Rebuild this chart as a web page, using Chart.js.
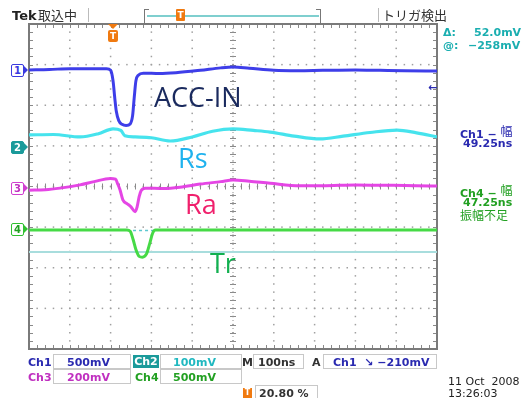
<!DOCTYPE html>
<html>
<head>
<meta charset="utf-8">
<script src="https://cdn.jsdelivr.net/npm/chart.js@4"></script>
<style>
  body { margin: 0; background: #fff; width: 527px; height: 398px; overflow: hidden; position: relative; font-family: "DejaVu Sans", sans-serif; }
  .t { position: absolute; white-space: nowrap; line-height: 1; }
  .b { font-weight: bold; font-size: 11px; }
  .box { position: absolute; border: 1px solid #c8c8c8; height: 13px; }
  .tab { position: absolute; left: 11px; width: 11px; height: 11px; border: 1px solid; border-radius: 2px; font: bold 10px "DejaVu Sans", sans-serif; line-height: 11px; text-align: center; background: #fff; }
  .tab:after { content: ""; position: absolute; left: 11px; top: 0; border-top: 5.5px solid transparent; border-bottom: 5.5px solid transparent; border-left: 5px solid; border-left-color: inherit; }
  .big { position: absolute; font-family: "Open Sans", sans-serif; font-size: 27px; line-height: 1; }
  #plot { position: absolute; left: 27px; top: 22px; width: 412px; height: 329px; }
</style>
</head>
<body>
<div id="plot"><canvas id="scope" width="412" height="329"></canvas></div>

<!-- top bar -->
<div class="t" style="left:12px;top:8px;font:bold 13px 'DejaVu Sans';color:#222">Tek</div>
<div class="t" style="left:38px;top:5px;font:13px 'Noto Sans CJK JP';color:#333">取込中</div>
<div style="position:absolute;left:88px;top:8px;width:1px;height:14px;background:#bbb"></div>
<div style="position:absolute;left:144px;top:9px;width:4px;height:13px;border:1px solid #777;border-right:none"></div>
<div style="position:absolute;left:316px;top:9px;width:4px;height:13px;border:1px solid #777;border-left:none"></div>
<div style="position:absolute;left:147px;top:15px;width:172px;height:2px;background:#7fcfcf"></div>
<div class="t" style="left:176px;top:9px;width:9px;height:12px;background:#f07a10;color:#fff;font:bold 9px 'DejaVu Sans';line-height:12px;text-align:center;border-radius:1px">T</div>
<div style="position:absolute;left:378px;top:8px;width:1px;height:14px;background:#bbb"></div>
<div class="t" style="left:382px;top:5px;font:13px 'Noto Sans CJK JP';color:#333">トリガ検出</div>

<!-- trigger position marker on top border -->
<div style="position:absolute;left:108px;top:24px;width:0;height:0;border-left:5px solid transparent;border-right:5px solid transparent;border-top:5px solid #f07a10"></div>
<div class="t" style="left:108px;top:30px;width:10px;height:12px;background:#f07a10;color:#fff;font:bold 9px 'DejaVu Sans';line-height:12px;text-align:center;border-radius:2px">T</div>

<!-- channel tabs -->
<div class="tab" style="top:64px;color:#3a3ae0;border-color:#3a3ae0">1</div>
<div class="tab" style="top:141px;color:#fff;background:#1a9a9a;border-color:#1a9a9a">2</div>
<div class="tab" style="top:182px;color:#c030c0;border-color:#d040d0">3</div>
<div class="tab" style="top:223px;color:#20a020;border-color:#30c030">4</div>
<div class="t" style="left:428px;top:81px;font:bold 11px 'DejaVu Sans';color:#2a2ab0">←</div>

<!-- big labels -->
<div class="big" style="left:154px;top:83px;color:#1a2a5e">ACC-IN</div>
<div class="big" style="left:178px;top:144px;color:#1fb2ee">Rs</div>
<div class="big" style="left:185px;top:190px;color:#f0206c">Ra</div>
<div class="big" style="left:210px;top:249px;color:#12b050">Tr</div>

<!-- right readouts -->
<div class="t b" style="left:443px;top:27px;color:#1aaeb0">Δ:</div>
<div class="t b" style="left:474px;top:27px;color:#1aaeb0">52.0mV</div>
<div class="t b" style="left:443px;top:40px;color:#1aaeb0">@:</div>
<div class="t b" style="left:468px;top:40px;color:#1aaeb0">−258mV</div>
<div class="t" style="left:460px;top:124px;font:bold 11px 'DejaVu Sans';color:#2a2ab0">Ch1 − <span style="font:12px 'Noto Sans CJK JP';position:relative;top:-2px">幅</span></div>
<div class="t b" style="left:463px;top:138px;color:#2a2ab0">49.25ns</div>
<div class="t" style="left:460px;top:183px;font:bold 11px 'DejaVu Sans';color:#22a022">Ch4 − <span style="font:12px 'Noto Sans CJK JP';position:relative;top:-2px">幅</span></div>
<div class="t b" style="left:463px;top:197px;color:#22a022">47.25ns</div>
<div class="t" style="left:460px;top:206px;font:12px 'Noto Sans CJK JP';color:#22a022">振幅不足</div>

<!-- bottom settings -->
<div class="t b" style="left:28px;top:357px;color:#2a2ab0">Ch1</div>
<div class="box" style="left:53px;top:354px;width:76px"></div>
<div class="t b" style="left:67px;top:357px;color:#2a2ab0">500mV</div>
<div class="t b" style="left:133px;top:355px;width:26px;height:13px;line-height:14px;background:#1a9a9a;color:#fff;text-align:center">Ch2</div>
<div class="box" style="left:160px;top:354px;width:80px"></div>
<div class="t b" style="left:173px;top:357px;color:#20b8c0">100mV</div>
<div class="t b" style="left:242px;top:357px;color:#333">M</div>
<div class="box" style="left:253px;top:354px;width:49px"></div>
<div class="t b" style="left:258px;top:357px;color:#333">100ns</div>
<div class="t b" style="left:312px;top:357px;color:#333">A</div>
<div class="box" style="left:323px;top:354px;width:112px"></div>
<div class="t b" style="left:333px;top:357px;color:#2a2ab0">Ch1 &nbsp;↘ −210mV</div>

<div class="t b" style="left:28px;top:372px;color:#c030c0">Ch3</div>
<div class="box" style="left:53px;top:369px;width:76px"></div>
<div class="t b" style="left:67px;top:372px;color:#c030c0">200mV</div>
<div class="t b" style="left:135px;top:372px;color:#22a022">Ch4</div>
<div class="box" style="left:160px;top:369px;width:80px"></div>
<div class="t b" style="left:173px;top:372px;color:#22a022">500mV</div>

<div class="t" style="left:243px;top:388px;width:9px;height:10px;background:#f07a10;color:#fff;font:bold 8px 'DejaVu Sans';line-height:10px;text-align:center">T</div>
<div class="box" style="left:255px;top:385px;width:61px"></div>
<div class="t b" style="left:259px;top:388px;color:#333">20.80 %</div>

<div class="t" style="left:448px;top:375px;font:11px 'DejaVu Sans';color:#222">11 Oct &nbsp;2008</div>
<div class="t" style="left:448px;top:387px;font:11px 'DejaVu Sans';color:#222">13:26:03</div>

<script>
// Oscilloscope capture, x in ns (10 div x 100ns), y in screen divisions (-4..4)

const ch1Time = [0, 50, 100, 150, 190, 200, 206, 210, 214, 220, 228, 238, 248, 254, 258, 262, 268, 280, 320, 360, 420, 470, 500, 540, 600, 660, 720, 800, 860, 920, 1000];
const ch1Div  = [2.87, 2.88, 2.9, 2.9, 2.9, 2.86, 2.6, 2.2, 1.85, 1.62, 1.53, 1.5, 1.54, 1.75, 2.2, 2.6, 2.74, 2.79, 2.78, 2.8, 2.86, 2.92, 2.94, 2.91, 2.86, 2.85, 2.86, 2.87, 2.86, 2.85, 2.84];

const ch2Time = [0, 60, 125, 170, 206, 225, 235, 260, 300, 346, 400, 450, 500, 550, 591, 650, 713, 770, 836, 902, 950, 1000];
const ch2Div  = [1.27, 1.28, 1.22, 1.3, 1.42, 1.38, 1.25, 1.22, 1.2, 1.12, 1.22, 1.36, 1.42, 1.38, 1.34, 1.24, 1.17, 1.24, 1.33, 1.39, 1.32, 1.22];

const ch3Time = [0, 40, 76, 125, 160, 199, 212, 218, 223, 230, 240, 250, 260, 265, 270, 275, 285, 330, 370, 420, 470, 500, 540, 591, 664, 720, 800, 880, 950, 1000];
const ch3Div  = [-0.09, -0.08, -0.04, 0.04, 0.12, 0.2, 0.18, 0.05, -0.08, -0.33, -0.42, -0.5, -0.62, -0.5, -0.25, -0.1, -0.04, -0.05, -0.02, 0.06, 0.12, 0.16, 0.13, 0.08, 0.02, 0.02, 0.04, 0.03, 0.02, 0.01];

const ch4Time = [0, 100, 200, 240, 248, 255, 262, 270, 278, 288, 296, 303, 310, 400, 500, 600, 700, 800, 900, 1000];
const ch4Div  = [-1.07, -1.07, -1.07, -1.07, -1.1, -1.3, -1.55, -1.72, -1.74, -1.66, -1.4, -1.15, -1.07, -1.07, -1.07, -1.07, -1.07, -1.07, -1.07, -1.07];

// Ch2 cursor level line and the dashed level across the Ch4 pulse
const levelTime = [0, 1000];
const levelDiv  = [-1.61, -1.61];
const gapTime   = [255, 305];
const gapDiv    = [-1.08, -1.08];

const toPoints = (xs, ys) => xs.map((x, i) => ({ x: x, y: ys[i] }));

function trace(label, xs, ys, color, width, order) {
  return {
    label: label,
    data: toPoints(xs, ys),
    borderColor: color,
    borderWidth: width,
    pointRadius: 0,
    cubicInterpolationMode: 'monotone',
    order: order
  };
}

// draws the scope graticule: dotted divisions, centre cross and edge ticks
const graticule = {
  id: 'graticule',
  beforeDatasetsDraw(chart) {
    const { ctx, chartArea: a, scales: { x, y } } = chart;
    ctx.save();
    ctx.fillStyle = '#a0a0a0';
    for (let t = 100; t < 1000; t += 100) {
      const px = x.getPixelForValue(t);
      for (let v = -4; v <= 4.001; v += 0.2) {
        ctx.fillRect(px - 0.75, y.getPixelForValue(v) - 0.75, 1.5, 1.5);
      }
    }
    for (let d = -3; d <= 3; d++) {
      const py = y.getPixelForValue(d);
      for (let t = 0; t <= 1000; t += 20) {
        ctx.fillRect(x.getPixelForValue(t) - 0.75, py - 0.75, 1.5, 1.5);
      }
    }
    // centre cross ticks
    ctx.strokeStyle = '#8a8a8a';
    ctx.lineWidth = 1;
    const cx = x.getPixelForValue(500), cy = y.getPixelForValue(0);
    ctx.beginPath();
    for (let v = -4; v <= 4.001; v += 0.2) {
      const py = Math.round(y.getPixelForValue(v)) + 0.5;
      ctx.moveTo(cx - 3, py); ctx.lineTo(cx + 3, py);
      ctx.moveTo(a.left, py); ctx.lineTo(a.left + 4, py);
      ctx.moveTo(a.right, py); ctx.lineTo(a.right - 4, py);
    }
    for (let t = 0; t <= 1000; t += 20) {
      const px = Math.round(x.getPixelForValue(t)) + 0.5;
      ctx.moveTo(px, cy - 3); ctx.lineTo(px, cy + 3);
      ctx.moveTo(px, a.top); ctx.lineTo(px, a.top + 4);
      ctx.moveTo(px, a.bottom); ctx.lineTo(px, a.bottom - 4);
    }
    ctx.stroke();
    ctx.strokeStyle = '#909090';
    ctx.beginPath();
    ctx.moveTo(cx, a.top); ctx.lineTo(cx, a.bottom);
    ctx.setLineDash([1, 3]);
    ctx.stroke();
    ctx.setLineDash([]);
    ctx.strokeStyle = '#7a7a7a';
    ctx.lineWidth = 2;
    ctx.strokeRect(a.left, a.top, a.right - a.left, a.bottom - a.top);
    ctx.restore();
  }
};

new Chart(document.getElementById('scope').getContext('2d'), {
  type: 'line',
  data: {
    datasets: [
      trace('Ch1', ch1Time, ch1Div, 'rgba(52, 52, 232, 0.95)', 3, 1),
      trace('Ch2', ch2Time, ch2Div, 'rgba(60, 226, 236, 0.95)', 3.2, 2),
      trace('Ch3', ch3Time, ch3Div, 'rgba(228, 60, 228, 0.95)', 3, 3),
      trace('Ch4', ch4Time, ch4Div, 'rgba(60, 216, 60, 0.95)', 3, 4),
      trace('level', levelTime, levelDiv, '#a8dddd', 2, 6),
      Object.assign(trace('gap', gapTime, gapDiv, '#5cc8d0', 1.5, 5), { borderDash: [3, 3] })
    ]
  },
  options: {
    responsive: false,
    animation: false,
    layout: { padding: 2 },
    plugins: { legend: { display: false }, tooltip: { enabled: false } },
    scales: {
      x: { type: 'linear', min: 0, max: 1000, display: false },
      y: { type: 'linear', min: -4, max: 4, display: false }
    }
  },
  plugins: [graticule]
});
</script>
</body>
</html>
